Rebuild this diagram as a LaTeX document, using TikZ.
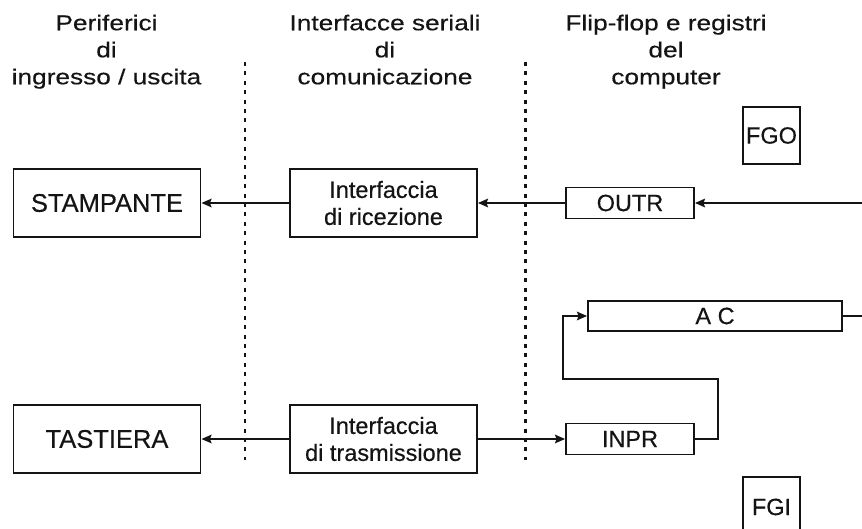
\documentclass[tikz,border=0pt]{standalone}
\usepackage{fontspec}
\setmainfont{Liberation Sans}[FakeBold=0.4]
\newfontfamily\headfont{Liberation Sans}[FakeStretch=1.22,FakeBold=0.4]
\usetikzlibrary{arrows.meta}
\definecolor{ink}{HTML}{141414}
\begin{document}
\begin{tikzpicture}[x=1pt,y=-1pt,
  blk/.style={draw=ink, line width=1.9pt, inner sep=0pt, align=center, text=ink,
              font=\fontsize{23.5}{27}\selectfont},
  perif/.style={blk, minimum width=187pt, minimum height=68pt,
              font=\fontsize{25.5}{27}\selectfont},
  iface/.style={blk, minimum width=187pt, minimum height=68pt},
  reg/.style={blk, minimum width=128pt, minimum height=31pt},
  flag/.style={blk, minimum width=57pt, minimum height=57pt},
  head/.style={inner sep=0pt, anchor=north, align=center, text=ink,
              font=\headfont\fontsize{21.5}{27}\selectfont},
  link/.style={draw=ink, line width=2.1pt},
  arr/.style={link, -{Stealth[length=10pt,width=8.5pt,inset=1.5pt]}},
  sep/.style={draw=ink, line width=2.2pt, dash pattern=on 4pt off 5.4pt}]

\useasboundingbox (0,0) rectangle (862,529);
\clip (0,0) rectangle (862,529);

% column headings
\node[head] (h1) at (106.5,14.5) {Periferici\\di\\ingresso / uscita};
\node[head] (h2) at (385,14.5) {Interfacce seriali\\di\\comunicazione};
\node[head] (h3) at (666,14.5) {Flip-flop e registri\\del\\computer};

% column separators
\coordinate (s1t) at (245,62);  \coordinate (s1b) at (245,460);
\coordinate (s2t) at (525.5,62); \coordinate (s2b) at (525.5,460);
\draw[sep] (s1t) -- (s1b);
\draw[sep] (s2t) -- (s2b);

% output chain
\node[perif] (stamp) at (107,203) {STAMPANTE};
\node[iface] (ric) at (383.5,203) {Interfaccia\\di ricezione};
\node[reg] (outr) at (630,203) {OUTR};
\node[flag] (fgo) at (771.5,135.5) {FGO};
\coordinate (busO) at (862,203);

% accumulator
\node[blk, minimum width=254pt, minimum height=30pt] (ac) at (715,316) {A C};
\coordinate (busA) at (862,316);

% input chain
\node[perif] (tast) at (107,439) {TASTIERA};
\node[iface] (tras) at (383.5,439) {Interfaccia\\di trasmissione};
\node[reg] (inpr) at (630,439) {INPR};
\node[blk, minimum width=57pt, minimum height=60pt] (fgi) at (771.5,507) {FGI};

% connections
\draw[arr] (busO) -- (outr.east);
\draw[arr] (outr.west) -- (ric.east);
\draw[arr] (ric.west) -- (stamp.east);
\draw[link] (ac.east) -- (busA);
\draw[arr] (tras.west) -- (tast.east);
\draw[arr] (tras.east) -- (inpr.west);
\coordinate (k1) at (718,379);
\coordinate (k2) at (563,379);
\draw[arr] (inpr.east) -| (k1) -- (k2) |- (ac.west);
\end{tikzpicture}
\end{document}
